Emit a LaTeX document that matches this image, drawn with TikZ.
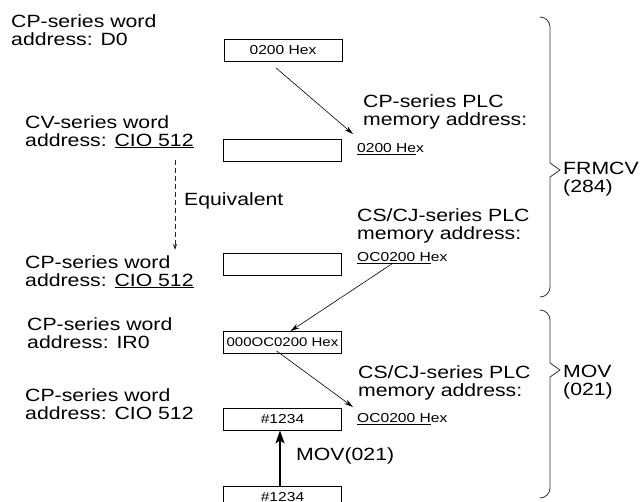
\documentclass[tikz,border=0pt]{standalone}
\usepackage{fontspec}
\setmainfont[FakeStretch=1.2]{Liberation Sans}
\usetikzlibrary{arrows.meta}

\begin{document}
\begin{tikzpicture}[x=1pt,y=-1pt,>={Stealth[length=9pt,width=5pt]},
  lbl/.style={anchor=north west,inner sep=0pt,align=left,font=\fontsize{17.7}{18}\selectfont},
  addr/.style={anchor=north west,inner sep=0pt,font=\fontsize{13}{15}\selectfont},
  cell/.style={draw,line width=0.8pt,minimum width=118pt,minimum height=22pt,inner sep=0pt,font=\fontsize{13}{15}\selectfont}]
\useasboundingbox (0,0) rectangle (642,502);
% word addresses, left column
\node[lbl] (d0) at (11,14) {CP-series word\\address: D0};
\node[lbl] (cv) at (25,115) {CV-series word\\address: \underline{CIO 512}};
\node[lbl] (cpa) at (25,255) {CP-series word\\address: \underline{CIO 512}};
\node[lbl] (ir0) at (27,317) {CP-series word\\address: IR0};
\node[lbl] (cpb) at (25,388) {CP-series word\\address: CIO 512};
\node[lbl] (eq) at (184,192) {Equivalent};
% memory words
\node[cell] (b1) at (283,50.5) {0200 Hex};
\node[cell] (b2) at (282,150) {};
\node[cell] (b3) at (282,264.5) {};
\node[cell,font=\fontsize{12.5}{15}\selectfont] (b4) at (282.5,342.5) {000OC0200 Hex};
\node[cell] (b5) at (282.5,419) {\#1234};
\node[cell] (b6) at (282.5,497) {\#1234};
% PLC memory addresses, right column
\node[lbl] (plc1) at (363,94) {CP-series PLC\\memory address:};
\node[addr] (t1) at (357,143) {\underline{0200 He}x};
\node[lbl] (plc2) at (357,208) {CS/CJ-series PLC\\memory address:};
\node[addr] (t2) at (357,252) {\underline{OC0200 H}ex};
\node[lbl] (plc3) at (358,365) {CS/CJ-series PLC\\memory address:};
\node[addr] (t3) at (357,413) {\underline{OC0200 H}ex};
\node[lbl] (mov) at (296,447) {MOV(021)};
% instructions
\node[lbl] (frm) at (563,162) {FRMCV\\(284)};
\node[lbl] (mv) at (563,365) {MOV\\(021)};
\draw[black!80,line width=0.8pt] (540,17) to[out=0,in=90] (550,27) -- (550,163) -- (560,170) -- (550,177) -- (550,287) to[out=-90,in=0] (540,297);
\draw[black!80,line width=0.8pt] (540,310) to[out=0,in=90] (550,320) -- (550,363) -- (560,370) -- (550,377) -- (550,488) to[out=-90,in=0] (540,498);
% connectors
\draw[->,line width=0.6pt] ([xshift=-7pt,yshift=-6pt]b1.south) -- ([xshift=-4pt,yshift=9pt]t1.north west);
\draw[-{Stealth[length=6pt,width=4pt]},black!85,line width=0.8pt,dash pattern=on 5pt off 3pt] ([xshift=150pt,yshift=-12pt]cv.south west) -- ([xshift=150pt,yshift=5pt]cpa.north west);
\draw[->,line width=0.6pt] ([xshift=-10pt]t2.south) -- ([xshift=8pt]b4.north);
\draw[->,line width=0.6pt] ([xshift=-6pt,yshift=3pt]b4.south) -- ([xshift=-4pt,yshift=6pt]t3.north west);
\draw[-{Stealth[length=13pt,width=9pt,inset=3pt]},line width=1.5pt] ([xshift=-2.5pt]b6.north) -- ([xshift=-2.5pt]b5.south);
\end{tikzpicture}
\end{document}
